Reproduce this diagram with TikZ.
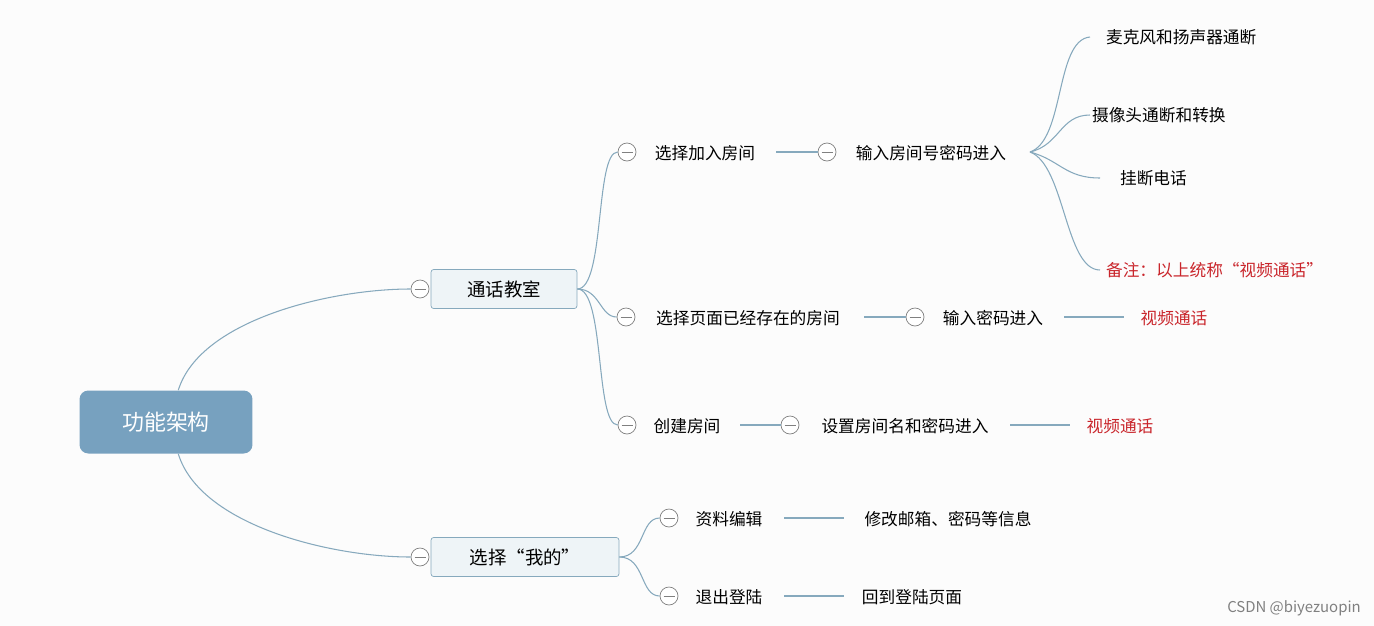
\documentclass[tikz,border=0pt]{standalone}
\usepackage{fontspec}
\setmainfont{Noto Sans CJK SC}
\definecolor{linec}{HTML}{86A9BD}
\definecolor{rootc}{HTML}{77A1BF}
\definecolor{boxc}{HTML}{EEF4F7}
\definecolor{redc}{HTML}{C9252B}
\tikzset{
  px/.style={x=0.02cm,y=-0.02cm},
  rootbox/.style={rectangle,rounded corners=5pt,fill=rootc,text=white,minimum width=3.46cm,minimum height=1.26cm,font=\fontsize{12.5}{14}\selectfont},
  mainbox/.style={rectangle,rounded corners=1.5pt,draw=linec,fill=boxc,minimum height=0.78cm,font=\fontsize{10.5}{12}\selectfont},
  txt/.style={font=\fontsize{9.5}{11}\selectfont,inner sep=1pt},
  redtxt/.style={txt,text=redc},
  fold/.style={circle,draw=gray,fill=white,minimum size=0.36cm,inner sep=0pt,
    path picture={\draw[gray] ([xshift=-0.11cm]path picture bounding box.center) -- ([xshift=0.11cm]path picture bounding box.center);}},
  con/.style={draw=linec,line width=0.6pt},
}
\begin{document}
\begin{tikzpicture}[px]
  \fill[white!98!gray] (0,0) rectangle (1374,626);
  \useasboundingbox (0,0) rectangle (1374,626);
  % root and main branches
  \node[rootbox] (root) at (166,422) {功能架构};
  \node[mainbox,minimum width=2.92cm] (room) at (504,289) {通话教室};
  \node[mainbox,minimum width=3.76cm] (mine) at (525,557) {选择“我的”};
  \node[fold] (froom) at (420,289) {};
  \node[fold] (fmine) at (420,557) {};
  \draw[con] ([xshift=7pt]root.north) .. controls (200,320) and (330,289) .. (froom.west);
  \draw[con] ([xshift=7pt]root.south) .. controls (200,525) and (330,557) .. (fmine.west);
  % second level
  \node[fold] (fjoin) at (627,152) {};
  \node[fold] (fexist) at (626,317) {};
  \node[fold] (fnew) at (627,425) {};
  \node[txt] (join) at (705,153) {选择加入房间};
  \node[txt] (exist) at (748,318) {选择页面已经存在的房间};
  \node[txt] (new) at (687,426) {创建房间};
  \draw[con] (room.east) .. controls (605,289) and (595,152) .. (fjoin.west);
  \draw[con] (room.east) .. controls (600,289) and (600,317) .. (fexist.west);
  \draw[con] (room.east) .. controls (605,289) and (595,425) .. (fnew.west);
  % join room
  \node[fold] (fpwd) at (827,152) {};
  \node[txt] (pwd) at (931,153) {输入房间号密码进入};
  \draw[con] (776,152) -- (fpwd.west);
  \coordinate (hub) at (1030,152);
  \node[txt,anchor=west] (mic) at (1104,37) {麦克风和扬声器通断};
  \node[txt,anchor=west] (cam) at (1090,115) {摄像头通断和转换};
  \node[txt,anchor=west] (hang) at (1118,178) {挂断电话};
  \node[redtxt,anchor=west] (note) at (1104,270) {备注：以上统称“视频通话”};
  \draw[con] (hub) .. controls (1065,140) and (1055,40) .. (1090,37);
  \draw[con] (hub) .. controls (1060,145) and (1060,115) .. (1090,115);
  \draw[con] (hub) .. controls (1060,160) and (1065,178) .. (1100,178);
  \draw[con] (hub) .. controls (1065,165) and (1065,270) .. (1100,270);
  % existing room
  \node[fold] (fpwd2) at (915,317) {};
  \node[txt] (pwd2) at (993,318) {输入密码进入};
  \node[redtxt] (call2) at (1174,318) {视频通话};
  \draw[con] (864,317) -- (fpwd2.west);
  \draw[con] (1064,317) -- (1124,317);
  % new room
  \node[fold] (fset) at (790,425) {};
  \node[txt] (set) at (905,426) {设置房间名和密码进入};
  \node[redtxt] (call3) at (1120,426) {视频通话};
  \draw[con] (740,425) -- (fset.west);
  \draw[con] (1010,425) -- (1070,425);
  % mine
  \node[fold] (fedit) at (669,518) {};
  \node[fold] (fout) at (669,596) {};
  \node[txt] (edit) at (729,519) {资料编辑};
  \node[txt] (out) at (729,597) {退出登陆};
  \node[txt] (mail) at (948,519) {修改邮箱、密码等信息};
  \node[txt] (back) at (912,597) {回到登陆页面};
  \draw[con] (mine.east) .. controls (645,557) and (640,518) .. (fedit.west);
  \draw[con] (mine.east) .. controls (645,557) and (640,596) .. (fout.west);
  \draw[con] (784,518) -- (844,518);
  \draw[con] (784,596) -- (844,596);
  \node[text=gray,font=\fontsize{8.5}{10}\selectfont] (mark) at (1294,608) {CSDN @biyezuopin};
\end{tikzpicture}
\end{document}
